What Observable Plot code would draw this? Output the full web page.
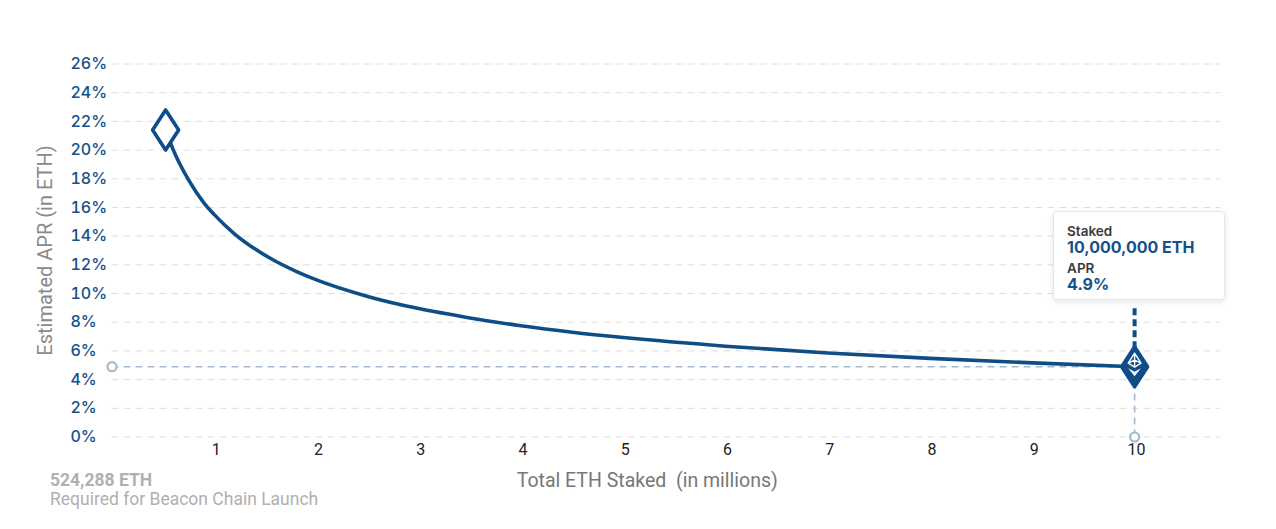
<!DOCTYPE html>
<html>
<head>
<meta charset="utf-8">
<script src="https://cdn.jsdelivr.net/npm/d3@7"></script>
<script src="https://cdn.jsdelivr.net/npm/@observablehq/plot@0.6"></script>
<style>
  html, body { margin: 0; padding: 0; background: #fff; }
  #wrap { position: relative; width: 1276px; height: 529px; font-family: Roboto, "Noto Sans", sans-serif; }
  #tip {
    position: absolute; box-sizing: border-box; width: 172px; height: 89px;
    background: #fff; border: 1px solid #e3e7ec; border-radius: 4px;
    box-shadow: 0 2px 6px rgba(0,0,0,0.10);
    padding: 11px 0 0 13px; font-family: Inter, Roboto, sans-serif;
  }
  #tip .k { font-size: 13.5px; font-weight: 600; color: #3a3a3a; line-height: 16px; }
  #tip .v { font-size: 16px; font-weight: 700; color: #15518a; line-height: 17px; margin-bottom: 4px; }
  #note { position: absolute; left: 50px; top: 471px; color: #b0b0b0; font-size: 17.5px; line-height: 19px; font-family: Roboto, sans-serif; }
  #note b { font-weight: 700; }
</style>
</head>
<body>
<div id="wrap"></div>
<script>
// ---- data ----
const staked = [0.524288, 0.6, 0.75, 0.9, 1.0, 1.2, 1.4, 1.6, 1.8, 2.0, 2.5, 3.0, 3.5, 4.0, 4.5, 5.0, 6.0, 7.0, 8.0, 9.0, 10.0];
const apr    = [21.4, 20.0, 17.9, 16.3, 15.5, 14.15, 13.1, 12.25, 11.55, 10.95, 9.8, 8.95, 8.3, 7.75, 7.3, 6.93, 6.33, 5.86, 5.48, 5.17, 4.9];
const xTicks = [1, 2, 3, 4, 5, 6, 7, 8, 9, 10];
const yTicks = [0, 2, 4, 6, 8, 10, 12, 14, 16, 18, 20, 22, 24, 26];
const launch = [{staked: 0.524288, apr: 21.4}];
const current = [{staked: 10, apr: 4.9}];
const xTitle = "Total ETH Staked  (in millions)";
const yTitle = "Estimated APR (in ETH)";
const tipStaked = "10,000,000 ETH";
const tipApr = "4.9%";
const noteTitle = "524,288 ETH";
const noteText = "Required for Beacon Chain Launch";

const curve = staked.map((s, i) => ({staked: s, apr: apr[i]}));

const BLUE = "#0e4d85";
const LIGHT = "#a3b9d0";

// tall diamond symbol
const tallDiamond = {
  draw(ctx, size) {
    const r = Math.sqrt(size / Math.PI);
    const w = r * 0.65;
    ctx.moveTo(0, -r); ctx.lineTo(w, 0); ctx.lineTo(0, r); ctx.lineTo(-w, 0); ctx.closePath();
  }
};
// ETH logo parts (scaled to r)
const ethTop = {
  draw(ctx, size) {
    const s = Math.sqrt(size / Math.PI) / 20;
    ctx.moveTo(0, -13.5 * s); ctx.lineTo(6.4 * s, -3.5 * s); ctx.lineTo(0, 0.5 * s); ctx.lineTo(-6.4 * s, -3.5 * s); ctx.closePath();
    ctx.moveTo(-6.4 * s, -3.5 * s); ctx.lineTo(0, -6.5 * s); ctx.lineTo(6.4 * s, -3.5 * s);
    ctx.moveTo(0, -13.5 * s); ctx.lineTo(0, 0.5 * s);
  }
};
const ethBottom = {
  draw(ctx, size) {
    const s = Math.sqrt(size / Math.PI) / 20;
    ctx.moveTo(-6.4 * s, 1.5 * s); ctx.lineTo(0, 5 * s); ctx.lineTo(6.4 * s, 1.5 * s); ctx.lineTo(0, 9.5 * s); ctx.closePath();
  }
};

const chart = Plot.plot({
  width: 1276,
  height: 529,
  marginTop: 63.5,
  marginBottom: 92.5,
  marginLeft: 111.5,
  marginRight: 56,
  style: {fontFamily: "Roboto, sans-serif", background: "#fff", overflow: "visible"},
  x: {domain: [0, 10.84]},
  y: {domain: [0, 26]},
  marks: [
    Plot.gridY(yTicks, {stroke: "#dedede", strokeOpacity: 1, strokeDasharray: "7,5", strokeWidth: 1}),
    Plot.axisY(yTicks, {tickSize: 0, tickPadding: 41.5, textAnchor: "start", fill: "#15518a", fontSize: 16, fontWeight: 500, fontFamily: "Inter, sans-serif", tickFormat: d => d + "%", label: null}),
    Plot.axisX(xTicks, {tickSize: 0, tickPadding: 7, dx: 2, fontSize: 16, fill: "#222", label: null}),
    Plot.text([yTitle], {frameAnchor: "left", textAnchor: "middle", rotate: -90, dx: -66, fill: "#8a8a8a", fontSize: 20}),
    Plot.text([xTitle], {frameAnchor: "bottom", dy: 50, dx: -19, fill: "#777", fontSize: 19.5}),
    // reference dashed lines
    Plot.ruleY(current, {y: "apr", x1: 0, x2: "staked", stroke: LIGHT, strokeWidth: 1.6, strokeDasharray: "7,5"}),
    Plot.ruleX(current, {x: "staked", y1: 0, y2: "apr", stroke: LIGHT, strokeWidth: 1.6, strokeDasharray: "7,5"}),
    Plot.dot(current, {x: 0, y: "apr", r: 4.5, fill: "#fff", stroke: LIGHT, strokeWidth: 2.2}),
    Plot.dot(current, {x: "staked", y: 0, r: 4.5, fill: "#fff", stroke: LIGHT, strokeWidth: 2.2}),
    // curve
    Plot.line(curve, {x: "staked", y: "apr", stroke: BLUE, strokeWidth: 3.6, curve: "monotone-x"}),
    // start marker
    Plot.dot(launch, {x: "staked", y: "apr", r: 20, symbol: tallDiamond, fill: "#fff", stroke: BLUE, strokeWidth: 3.6, strokeLinejoin: "round"}),
    // connector to tooltip
    Plot.ruleX(current, {x: "staked", y1: "apr", y2: "apr", insetTop: -58, stroke: BLUE, strokeWidth: 4, strokeDasharray: "7,4"}),
    // end marker
    Plot.dot(current, {x: "staked", y: "apr", r: 20, symbol: tallDiamond, fill: BLUE, stroke: BLUE, strokeWidth: 3.5, strokeLinejoin: "round"}),
    Plot.dot(current, {x: "staked", y: "apr", r: 20, symbol: ethTop, fill: "none", stroke: "#fff", strokeWidth: 1.4, strokeLinejoin: "round"}),
    Plot.dot(current, {x: "staked", y: "apr", r: 20, symbol: ethBottom, fill: "#fff", stroke: "none"})
  ]
});

const wrap = document.getElementById("wrap");
wrap.appendChild(chart);

// tooltip, positioned from the scales
const px = chart.scale("x").apply(current[0].staked);
const py = chart.scale("y").apply(current[0].apr);
const tip = document.createElement("div");
tip.id = "tip";
tip.style.left = (px - 81) + "px";
tip.style.top = (py - 66 - 89) + "px";
tip.innerHTML = `<div class="k">Staked</div><div class="v">${tipStaked}</div><div class="k">APR</div><div class="v">${tipApr}</div>`;
wrap.appendChild(tip);

const note = document.createElement("div");
note.id = "note";
note.innerHTML = `<b>${noteTitle}</b><br>${noteText}`;
wrap.appendChild(note);
</script>
</body>
</html>
